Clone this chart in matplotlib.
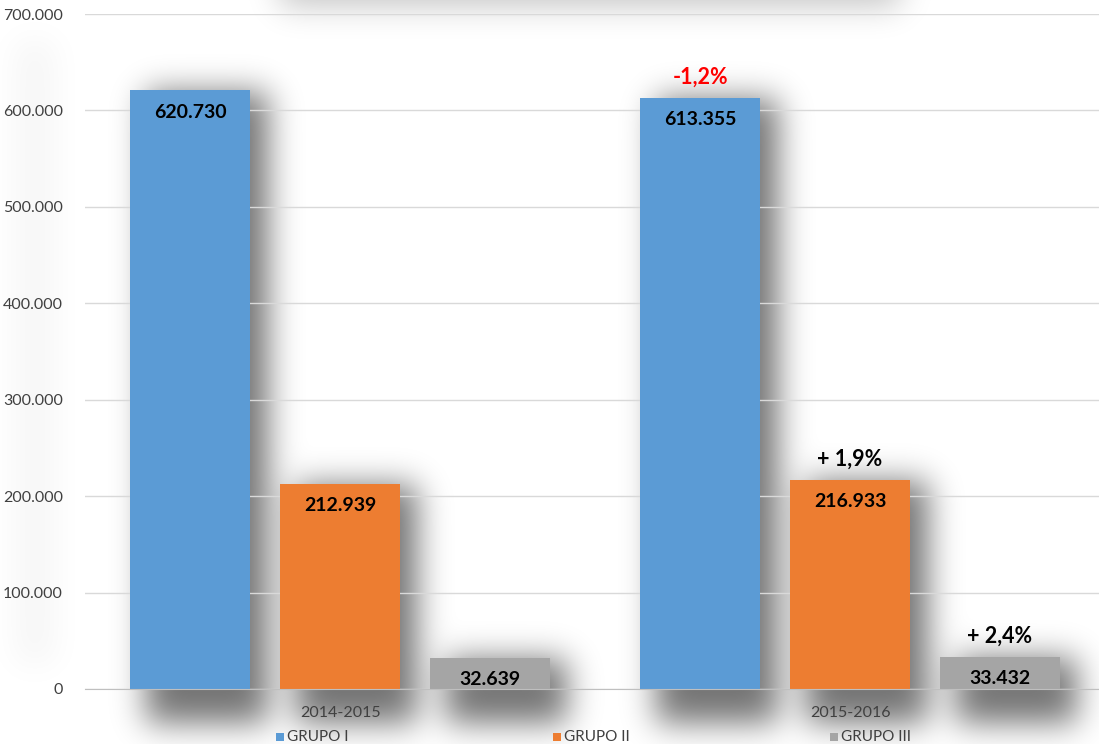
import numpy as np
import matplotlib.pyplot as plt
from matplotlib.patches import Rectangle

plt.rcParams['font.family'] = ['Lato', 'DejaVu Sans']

# datos
categorias = ['2014-2015', '2015-2016']
grupos = ['GRUPO I', 'GRUPO II', 'GRUPO III']
valores = {
    'GRUPO I': [620730, 613355],
    'GRUPO II': [212939, 216933],
    'GRUPO III': [32639, 33432],
}
etiquetas = {
    'GRUPO I': ['620.730', '613.355'],
    'GRUPO II': ['212.939', '216.933'],
    'GRUPO III': ['32.639', '33.432'],
}
variacion = {'GRUPO I': '-1,2%', 'GRUPO II': '+ 1,9%', 'GRUPO III': '+ 2,4%'}
color_var = {'GRUPO I': '#ff0000', 'GRUPO II': '#000000', 'GRUPO III': '#000000'}
colores = ['#5b9bd5', '#ed7d31', '#a5a5a5']
yticks = np.arange(0, 700001, 100000)
ytick_labels = ['0', '100.000', '200.000', '300.000', '400.000', '500.000', '600.000', '700.000']

W, H = 1099, 744
fig = plt.figure(figsize=(W / 100, H / 100), dpi=100)
ax = fig.add_axes([85 / W, 55 / H, 1014 / W, 675 / H])
ax.set_xlim(-0.5, 1.488)
ax.set_ylim(0, 700000)
ax.set_facecolor('none')

x = np.arange(len(categorias))
ancho = 0.235
paso = 0.294

# mascara de sombras (en pixeles de la figura)
mask = np.zeros((H, W))


def add_rect(x0, y0, x1, y1, peso=1.0):
    # coordenadas en pixeles con origen abajo-izquierda
    c0, c1 = int(max(0, x0)), int(min(W, x1))
    r0, r1 = int(max(0, H - y1)), int(min(H, H - y0))
    if c1 > c0 and r1 > r0:
        mask[r0:r1, c0:c1] = np.maximum(mask[r0:r1, c0:c1], peso)


for gi, g in enumerate(grupos):
    pos = x + (gi - 1) * paso
    ax.bar(pos, valores[g], width=ancho, color=colores[gi], zorder=3, label=g)
    for p, v, t in zip(pos, valores[g], etiquetas[g]):
        ax.text(p, v - 23000, t, ha='center', va='center', fontsize=14,
                fontweight='bold', color='#000000', zorder=4)
        (px0, py0), (px1, py1) = ax.transData.transform([(p - ancho / 2, 0), (p + ancho / 2, v)])
        add_rect(px0 + 16, py0 - 34, px1 + 18, py1 - 2, 1.0)
    p, v = pos[1], valores[g][1]
    ax.text(p, v + 21500, variacion[g], ha='center', va='center', fontsize=15.5,
            fontweight='bold', color=color_var[g], zorder=4)

# sombra del titulo y de las etiquetas del eje
add_rect(280, H - 6, 900, H + 80, 0.42)
add_rect(15, 80, 55, H - 40, 0.07)


def blur(a, sigma):
    k = np.arange(-3 * sigma, 3 * sigma + 1)
    k = np.exp(-k ** 2 / (2 * sigma ** 2))
    k /= k.sum()
    a = np.pad(a, 3 * sigma, mode='edge')
    a = np.apply_along_axis(lambda r: np.convolve(r, k, mode='same'), 1, a)
    a = np.apply_along_axis(lambda c: np.convolve(c, k, mode='same'), 0, a)
    return a[3 * sigma:-3 * sigma, 3 * sigma:-3 * sigma]


mask = blur(mask, 16)
img = np.zeros((H, W, 4))
img[..., 3] = np.clip(mask, 0, 1) * 0.55
fig.figimage(img, 0, 0, zorder=-1, origin='upper')

ax.set_yticks(yticks)
ax.set_yticklabels(ytick_labels)
ax.set_xticks(x)
ax.set_xticklabels(categorias)
ax.tick_params(axis='y', length=0, pad=16, labelsize=11.5, labelcolor='#404040')
ax.tick_params(axis='x', length=0, pad=12, labelsize=11.5, labelcolor='#404040')
ax.grid(axis='y', color='#d9d9d9', linewidth=1, zorder=0)
ax.set_axisbelow(True)
for s in ['top', 'right', 'left']:
    ax.spines[s].set_visible(False)
ax.spines['bottom'].set_color('#bfbfbf')
ax.spines['bottom'].set_zorder(5)

# leyenda
for gi, g in enumerate(grupos):
    lx = (276 + gi * 277) / W
    fig.patches.append(Rectangle((lx, 3 / H), 8 / W, 8 / H, transform=fig.transFigure,
                                 facecolor=colores[gi], edgecolor='none'))
    fig.text(lx + 11 / W, 7 / H, g, fontsize=11, color='#404040', va='center', ha='left')

fig.savefig('out.png', dpi=100)
